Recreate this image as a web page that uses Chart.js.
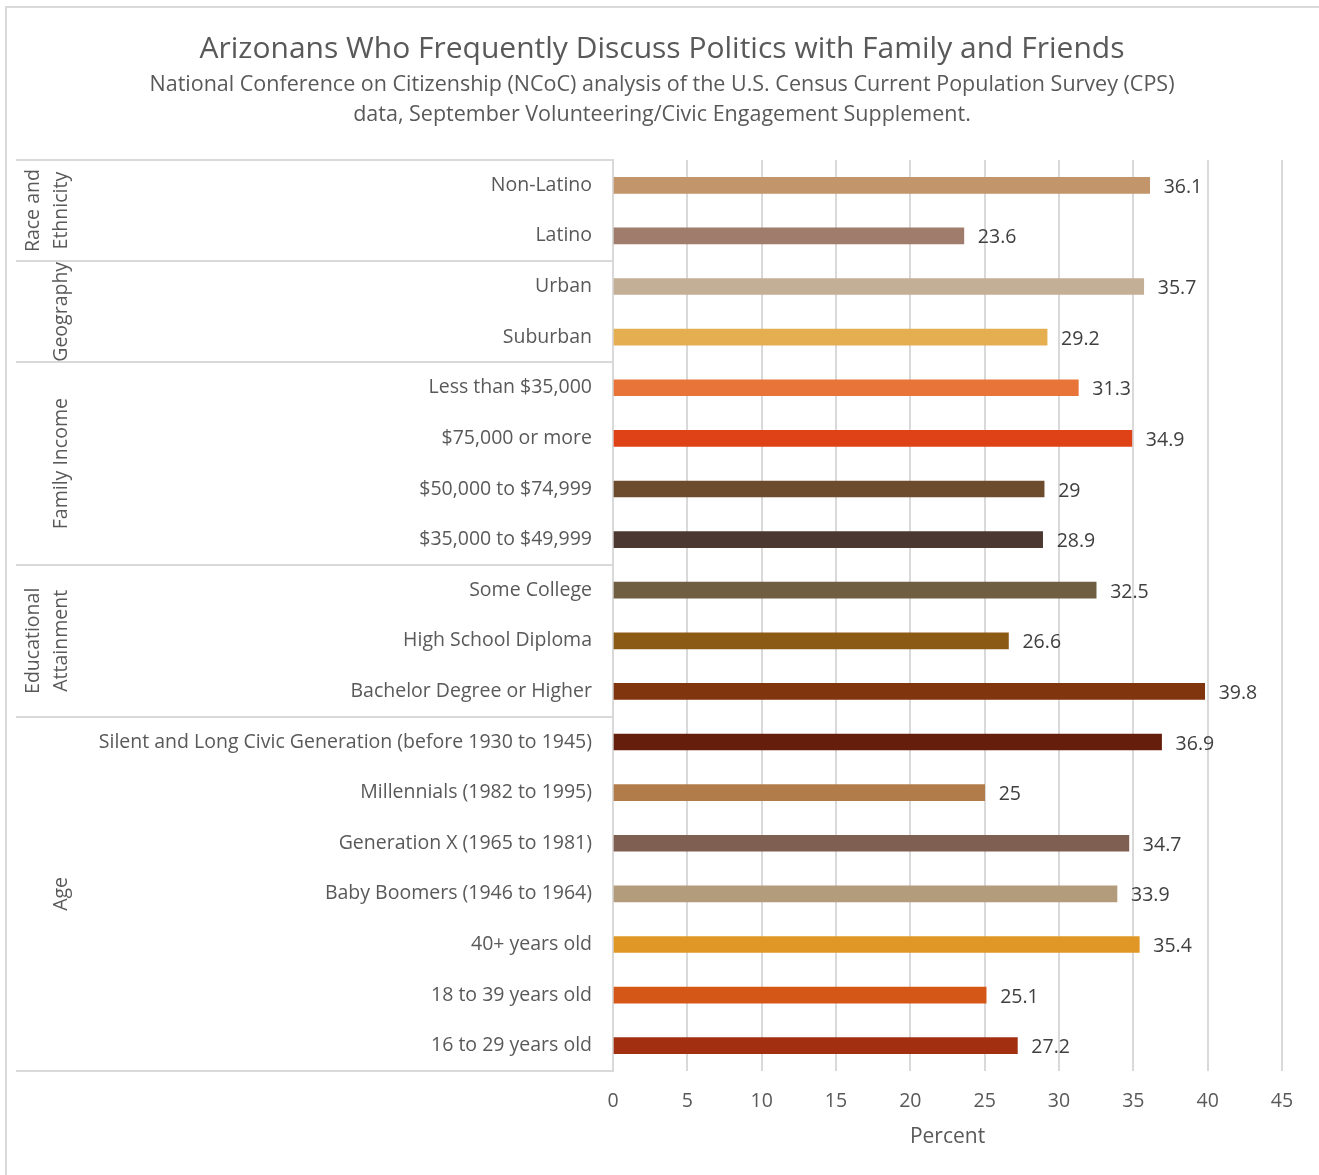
<!DOCTYPE html>
<html>
<head>
<meta charset="utf-8">
<script src="https://cdn.jsdelivr.net/npm/chart.js@4.4.1/dist/chart.umd.min.js"></script>
<style>
  html, body { margin: 0; padding: 0; background: #fff; }
  #wrap { width: 1319px; height: 1175px; position: relative; }
</style>
</head>
<body>
<div id="wrap"><canvas id="chart" width="1319" height="1175"></canvas></div>
<script>
// --- data ---
const CATEGORIES = [
  'Non-Latino', 'Latino',
  'Urban', 'Suburban',
  'Less than $35,000', '$75,000 or more', '$50,000 to $74,999', '$35,000 to $49,999',
  'Some College', 'High School Diploma', 'Bachelor Degree or Higher',
  'Silent and Long Civic Generation (before 1930 to 1945)', 'Millennials (1982 to 1995)',
  'Generation X (1965 to 1981)', 'Baby Boomers (1946 to 1964)', '40+ years old',
  '18 to 39 years old', '16 to 29 years old'
];
const VALUES = [36.1, 23.6, 35.7, 29.2, 31.3, 34.9, 29, 28.9, 32.5, 26.6, 39.8, 36.9, 25, 34.7, 33.9, 35.4, 25.1, 27.2];
const GROUPS = [
  { name: ['Race and', 'Ethnicity'], size: 2 },
  { name: ['Geography'], size: 2 },
  { name: ['Family Income'], size: 4 },
  { name: ['Educational', 'Attainment'], size: 3 },
  { name: ['Age'], size: 7 }
];
const X_TICKS = [0, 5, 10, 15, 20, 25, 30, 35, 40, 45];

const BAR_COLORS = [
  '#C2956A', '#A07C6C', '#C3AE96', '#E5AE50', '#E8743A', '#E04218', '#6D4C2E', '#4B3830',
  '#705E42', '#8B5B16', '#80350F', '#651E0C', '#B27C4A', '#7E5F51', '#B29C7C', '#E09726',
  '#D55717', '#A22F10'
];

const TEXT = '#595959';
const LINE = '#d9d9d9';
const FONT = "'Open Sans', sans-serif";

// titles, group labels, separators, value labels
const extras = {
  id: 'extras',
  beforeDraw(chart) {
    const ctx = chart.ctx;
    ctx.save();
    ctx.strokeStyle = LINE;
    ctx.lineWidth = 2;
    ctx.strokeRect(6, 7, 1340, 1200);
    ctx.restore();
  },
  afterDraw(chart) {
    const ctx = chart.ctx;
    const area = chart.chartArea;
    const step = (area.bottom - area.top) / CATEGORIES.length;
    ctx.save();

    // title block
    ctx.fillStyle = TEXT;
    ctx.textAlign = 'center';
    ctx.textBaseline = 'middle';
    ctx.font = `30px ${FONT}`;
    ctx.fillText('Arizonans Who Frequently Discuss Politics with Family and Friends', 662, 49);
    ctx.font = `21.5px ${FONT}`;
    ctx.fillText('National Conference on Citizenship (NCoC) analysis of the U.S. Census Current Population Survey (CPS)', 662, 85);
    ctx.fillText('data, September Volunteering/Civic Engagement Supplement.', 662, 115);

    // separators
    ctx.strokeStyle = LINE;
    ctx.lineWidth = 2;
    let idx = 0;
    const bounds = [0];
    GROUPS.forEach(g => { idx += g.size; bounds.push(idx); });
    bounds.forEach(b => {
      const yy = Math.round(area.top + b * step);
      ctx.beginPath();
      ctx.moveTo(16, yy);
      ctx.lineTo(area.left, yy);
      ctx.stroke();
    });

    // group names, rotated
    ctx.font = `19.5px ${FONT}`;
    ctx.fillStyle = TEXT;
    GROUPS.forEach((g, i) => {
      const cy = area.top + (bounds[i] + bounds[i + 1]) / 2 * step;
      const xs = g.name.length === 2 ? [33, 61] : [61];
      g.name.forEach((line, j) => {
        ctx.save();
        ctx.translate(xs[j], cy);
        ctx.rotate(-Math.PI / 2);
        ctx.fillText(line, 0, 0);
        ctx.restore();
      });
    });

    // value labels
    ctx.textAlign = 'left';
    ctx.fillStyle = '#404040';
    ctx.font = `19.5px ${FONT}`;
    const meta = chart.getDatasetMeta(0);
    meta.data.forEach((bar, i) => {
      ctx.fillText(String(VALUES[i]), bar.x + 14, bar.y + 2);
    });

    // axis title
    ctx.textAlign = 'center';
    ctx.fillStyle = TEXT;
    ctx.font = `21px ${FONT}`;
    ctx.fillText('Percent', (area.left + area.right) / 2, 1137);
    ctx.restore();
  }
};

new Chart(document.getElementById('chart'), {
  type: 'bar',
  data: {
    labels: CATEGORIES,
    datasets: [{
      data: VALUES,
      backgroundColor: BAR_COLORS,
      barThickness: 16
    }]
  },
  options: {
    indexAxis: 'y',
    responsive: false,
    animation: false,
    layout: { padding: { top: 160, right: 37, left: 0, bottom: 0 } },
    plugins: { legend: { display: false }, tooltip: { enabled: false } },
    scales: {
      x: {
        min: 0,
        max: 45,
        afterFit(scale) { scale.height = 104; },
        afterBuildTicks(scale) { scale.ticks = X_TICKS.map(v => ({ value: v })); },
        grid: { color: LINE, lineWidth: 2, drawTicks: false },
        border: { display: false },
        ticks: { color: TEXT, font: { family: FONT, size: 19.5 }, padding: 19, maxRotation: 0 }
      },
      y: {
        afterFit(scale) { scale.width = 613; },
        grid: { display: false, drawTicks: false },
        border: { display: true, color: LINE, width: 2 },
        ticks: { color: TEXT, font: { family: FONT, size: 19.5 }, padding: 21, autoSkip: false }
      }
    }
  },
  plugins: [extras]
});
</script>
</body>
</html>
